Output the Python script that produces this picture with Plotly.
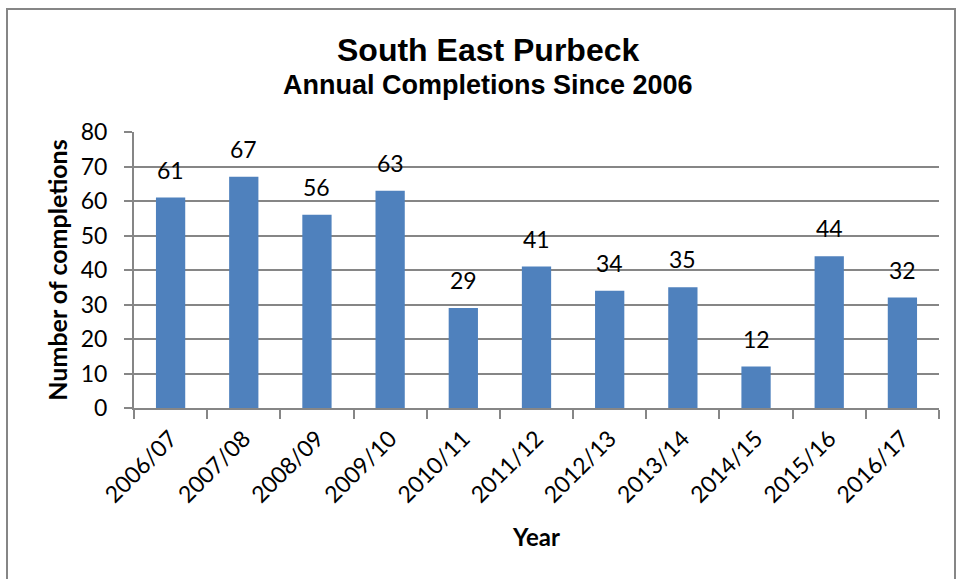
import plotly.graph_objects as go

years = ["2006/07", "2007/08", "2008/09", "2009/10", "2010/11", "2011/12",
         "2012/13", "2013/14", "2014/15", "2015/16", "2016/17"]
completions = [61, 67, 56, 63, 29, 41, 34, 35, 12, 44, 32]
y_ticks = [0, 10, 20, 30, 40, 50, 60, 70, 80]

W, H = 957, 579
L, R, T, B = 134, 18, 132, 171
pw, ph = W - L - R, H - T - B

def px(x):
    return (x - L) / pw

def py(y):
    return (H - B - y) / ph

fig = go.Figure()
fig.add_trace(go.Bar(x=years, y=completions, marker=dict(color="#4F81BD", line=dict(width=0)),
                     hoverinfo="x+y"))

for yr, v in zip(years, completions):
    fig.add_annotation(x=yr, y=v, text=str(v), showarrow=False, yanchor="bottom",
                       yshift=12, font=dict(family="Lato", size=23, color="#000000"))

grid = "#868686"
fig.update_layout(
    width=W, height=H,
    margin=dict(l=L, r=R, t=T, b=B),
    paper_bgcolor="white", plot_bgcolor="white",
    bargap=0.6, showlegend=False,
    font=dict(family="Lato", color="#000000"),
    xaxis=dict(type="category", showgrid=False, showline=True, linecolor=grid, linewidth=2,
               ticks="outside", tickson="boundaries", ticklen=9, tickcolor=grid, tickwidth=2,
               tickangle=-45, tickfont=dict(family="Lato", size=23), ticklabelstandoff=6,
               title=dict(text="<b>Year</b>", font=dict(family="Lato", size=24), standoff=22)),
    yaxis=dict(range=[0, 80], tickvals=y_ticks, showgrid=True, gridcolor=grid, gridwidth=1.5,
               showline=True, linecolor=grid, linewidth=2, zeroline=False,
               ticks="outside", ticklen=8, tickcolor=grid, tickwidth=2,
               tickfont=dict(family="Lato", size=23), ticklabelstandoff=12,
               title=dict(text="<b>Number of completions</b>", font=dict(family="Lato", size=25),
                          standoff=6)),
)

fig.add_annotation(xref="paper", yref="paper", x=px(488), y=py(50), text="<b>South East Purbeck</b>",
                   showarrow=False, xanchor="center", yanchor="middle",
                   font=dict(family="Liberation Sans", size=32, color="#000000"))
fig.add_annotation(xref="paper", yref="paper", x=px(488), y=py(85),
                   text="<b>Annual Completions Since 2006</b>",
                   showarrow=False, xanchor="center", yanchor="middle",
                   font=dict(family="Liberation Sans", size=27, color="#000000"))

fig.add_shape(type="rect", xref="paper", yref="paper", x0=px(7), y0=py(600), x1=px(955), y1=py(9),
              line=dict(color="#868686", width=2), fillcolor="rgba(0,0,0,0)", layer="below")

fig.write_html("out.html")
